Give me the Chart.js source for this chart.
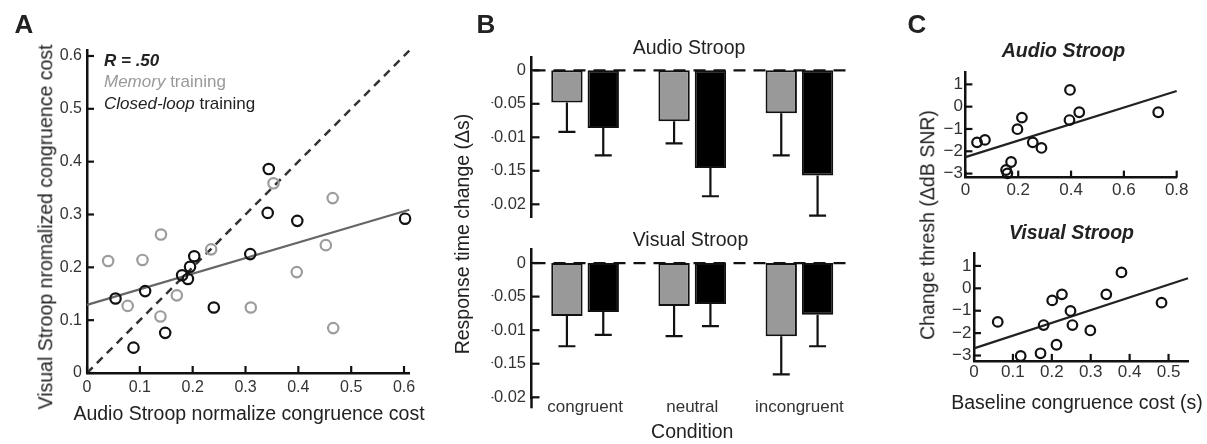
<!DOCTYPE html>
<html>
<head>
<meta charset="utf-8">
<script src="https://cdn.jsdelivr.net/npm/chart.js@4.4.0/dist/chart.umd.min.js"></script>
<style>
  body { margin: 0; background: #fff; }
  #wrap { position: relative; width: 1207px; height: 444px; overflow: hidden;
          font-family: 'Liberation Sans', Arial, sans-serif; color: #222; }
  #wrap canvas { position: absolute; left: 0; top: 0; }
  .t { position: absolute; white-space: nowrap; line-height: 1; font-size: 19.5px;
       transform: translate(-50%, -50%); }
  .l { transform: translateY(-50%); font-size: 17px; }
  .v { transform: translate(-50%, -50%) rotate(-90deg); }
  .p { font-weight: bold; font-size: 26px; }
  .bi { font-weight: bold; font-style: italic; }
</style>
</head>
<body>
<div id="wrap">
  <canvas id="cA" width="1207" height="444"></canvas>
  <canvas id="cB1" width="1207" height="444"></canvas>
  <canvas id="cB2" width="1207" height="444"></canvas>
  <canvas id="cC1" width="1207" height="444"></canvas>
  <canvas id="cC2" width="1207" height="444"></canvas>

  <div class="t p" style="left:24px;top:24px">A</div>
  <div class="t p" style="left:486px;top:24px">B</div>
  <div class="t p" style="left:917px;top:24px">C</div>

  <div class="t l bi" style="left:104px;top:60px">R = .50</div>
  <div class="t l" style="left:104px;top:80.5px;color:#999"><i>Memory</i> training</div>
  <div class="t l" style="left:104px;top:102.5px;color:#222"><i>Closed-loop</i> training</div>
  <div class="t v" style="left:46px;top:226.5px">Visual Stroop nromalized congruence cost</div>
  <div class="t" style="left:249px;top:414px">Audio Stroop normalize congruence cost</div>

  <div class="t" style="left:689px;top:47.5px">Audio Stroop</div>
  <div class="t" style="left:690.5px;top:239.5px">Visual Stroop</div>
  <div class="t v" style="left:463px;top:234px">Response time change (Δs)</div>

  <div class="t bi" style="left:1063.5px;top:51px">Audio Stroop</div>
  <div class="t bi" style="left:1071.5px;top:233px">Visual Stroop</div>
  <div class="t v" style="left:928px;top:225px">Change thresh (ΔdB SNR)</div>
  <div class="t" style="left:1077px;top:403px">Baseline congruence cost (s)</div>
</div>

<script>
// ---- panel A: normalized congruence cost ----
const aMemX = [0.040, 0.077, 0.105, 0.140, 0.139, 0.170, 0.235, 0.353, 0.310, 0.397, 0.452, 0.465, 0.466];
const aMemY = [0.212, 0.127, 0.214, 0.262, 0.107, 0.147, 0.234, 0.359, 0.124, 0.191, 0.242, 0.331, 0.085];
const aClosedX = [0.054, 0.110, 0.088, 0.148, 0.180, 0.191, 0.195, 0.203, 0.240, 0.309, 0.342, 0.344, 0.398, 0.602];
const aClosedY = [0.141, 0.155, 0.048, 0.076, 0.185, 0.178, 0.201, 0.221, 0.124, 0.225, 0.303, 0.386, 0.288, 0.292];
const aFitX = [0, 0.61];
const aFitY = [0.129, 0.309];
const aIdX = [0, 0.61];
const aIdY = [0, 0.61];
const aTicks = [0, 0.1, 0.2, 0.3, 0.4, 0.5, 0.6];
const aTickLabels = ['0', '0.1', '0.2', '0.3', '0.4', '0.5', '0.6'];

// ---- panel B: response time change ----
const conditions = ['congruent', 'neutral', 'incongruent'];
const audioMem = [-0.048, -0.076, -0.064];
const audioMemSem = [0.044, 0.033, 0.063];
const audioClosed = [-0.086, -0.146, -0.157];
const audioClosedSem = [0.041, 0.042, 0.060];
const visualMem = [-0.079, -0.064, -0.109];
const visualMemSem = [0.045, 0.045, 0.057];
const visualClosed = [-0.073, -0.061, -0.077];
const visualClosedSem = [0.034, 0.033, 0.047];
const bTicks = [-0.2, -0.15, -0.1, -0.05, 0];
const bTickLabels = ['-0.02', '\u22120.15', '-0.01', '\u22120.05', '0'];

// ---- panel C: threshold change vs baseline ----
const cAudioX = [0.044, 0.074, 0.154, 0.159, 0.173, 0.197, 0.214, 0.255, 0.288, 0.394, 0.396, 0.431, 0.730];
const cAudioY = [-1.60, -1.49, -2.84, -2.99, -2.48, -1.01, -0.49, -1.60, -1.85, -0.60, 0.75, -0.25, -0.25];
const cAudioFitX = [0, 0.8];
const cAudioFitY = [-2.26, 0.70];
const cVisualX = [0.061, 0.120, 0.171, 0.179, 0.201, 0.212, 0.226, 0.248, 0.253, 0.299, 0.340, 0.379, 0.482];
const cVisualY = [-1.50, -3.02, -2.90, -1.64, -0.54, -2.52, -0.27, -1.01, -1.64, -1.88, -0.27, 0.71, -0.64];
const cVisualFitX = [0, 0.55];
const cVisualFitY = [-2.68, 0.45];
const cYTicks = [-3, -2, -1, 0, 1];
const cYTickLabels = ['\u22123', '\u22122', '\u22121', '0', '1'];
const cAudioXTicks = [0, 0.2, 0.4, 0.6, 0.8];
const cAudioXLabels = ['0', '0.2', '0.4', '0.6', '0.8'];
const cVisualXTicks = [0, 0.1, 0.2, 0.3, 0.4, 0.5];
const cVisualXLabels = ['0', '0.1', '0.2', '0.3', '0.4', '0.5'];

Chart.defaults.font.family = "'Liberation Sans', Arial, sans-serif";
Chart.defaults.color = '#333';

const W = 1207, H = 444;
const zip = (xs, ys) => xs.map((x, i) => ({ x: x, y: ys[i] }));

// place the chart area at a fixed spot on the full-size canvas
const pad = (l, t, r, b, yw, xh) => ({ left: l - yw, top: t, right: W - r, bottom: H - b - xh });

// tick marks pointing into the plot, like the original figure
const inTicks = (axes, len) => ({
  id: 'inTicks',
  afterDatasetsDraw(chart) {
    const ctx = chart.ctx, a = chart.chartArea;
    ctx.save();
    ctx.strokeStyle = '#111';
    ctx.lineWidth = 2.2;
    axes.forEach(id => {
      const s = chart.scales[id];
      s.ticks.forEach(t => {
        const p = s.getPixelForValue(t.value);
        ctx.beginPath();
        if (s.isHorizontal()) { ctx.moveTo(p, a.bottom); ctx.lineTo(p, a.bottom - len); }
        else { ctx.moveTo(a.left, p); ctx.lineTo(a.left + len, p); }
        ctx.stroke();
      });
    });
    ctx.restore();
  }
});

// y spine runs a little below the last tick in panel B
const spineDown = (extra) => ({
  id: 'spineDown',
  afterDraw(chart) {
    const ctx = chart.ctx, a = chart.chartArea;
    ctx.save();
    ctx.strokeStyle = '#111';
    ctx.lineWidth = 2.5;
    ctx.beginPath();
    ctx.moveTo(a.left, a.bottom - 1);
    ctx.lineTo(a.left, a.bottom + extra);
    ctx.stroke();
    ctx.restore();
  }
});

const errBars = (sems) => ({
  id: 'errBars',
  afterDatasetsDraw(chart) {
    const ctx = chart.ctx, ys = chart.scales.y;
    ctx.save();
    ctx.strokeStyle = '#111';
    ctx.lineWidth = 2.2;
    chart.data.datasets.forEach((ds, i) => {
      chart.getDatasetMeta(i).data.forEach((bar, j) => {
        const y1 = ys.getPixelForValue(ds.data[j] - sems[i][j]);
        ctx.beginPath();
        ctx.moveTo(bar.x, bar.y);
        ctx.lineTo(bar.x, y1);
        ctx.moveTo(bar.x - 8.5, y1);
        ctx.lineTo(bar.x + 8.5, y1);
        ctx.stroke();
      });
    });
    ctx.restore();
  }
});

const zeroLine = {
  id: 'zeroLine',
  beforeDatasetsDraw(chart) {
    const ctx = chart.ctx, a = chart.chartArea;
    const y = chart.scales.y.getPixelForValue(0);
    ctx.save();
    ctx.strokeStyle = '#111';
    ctx.lineWidth = 2.2;
    ctx.setLineDash([12, 8]);
    ctx.beginPath();
    ctx.moveTo(a.left + 2, y);
    ctx.lineTo(a.right, y);
    ctx.stroke();
    ctx.restore();
  }
};

const linAxis = (min, max, ticks, labels, size, padding, fit) => ({
  type: 'linear', min: min, max: max,
  afterBuildTicks: s => { s.ticks = ticks.map(v => ({ value: v })); },
  afterFit: fit,
  grid: { display: false, drawTicks: false },
  border: { display: true, color: '#111', width: 2.5 },
  ticks: {
    autoSkip: false, maxRotation: 0, padding: padding, color: '#333',
    font: { size: size, lineHeight: 1 },
    callback: (v, i) => labels[i]
  }
});

const points = (xs, ys, color, r) => ({
  data: zip(xs, ys), borderColor: color, backgroundColor: 'rgba(0,0,0,0)',
  pointRadius: r, pointBorderWidth: 2.2, pointBackgroundColor: 'rgba(0,0,0,0)', clip: false
});
const line = (xs, ys, color, w, dash) => ({
  data: zip(xs, ys), showLine: true, borderColor: color, borderWidth: w,
  borderDash: dash || [], pointRadius: 0, clip: false
});

const common = (padding) => ({
  responsive: false, animation: false, devicePixelRatio: 1, events: [],
  layout: { padding: padding },
  plugins: { legend: { display: false }, tooltip: { enabled: false } }
});

// A
const optA = common(pad(87, 50.7, 409.3, 373, 40, 30));
optA.scales = {
  x: linAxis(0, 0.61, aTicks, aTickLabels, 16, 6.5, s => { s.height = 30; }),
  y: linAxis(0, 0.61, aTicks, aTickLabels, 16, 5, s => { s.width = 40; })
};
new Chart('cA', {
  type: 'scatter',
  data: { datasets: [
    points(aClosedX, aClosedY, '#111', 5.2),
    points(aMemX, aMemY, '#9c9c9c', 5.2),
    line(aFitX, aFitY, '#666', 2.2),
    line(aIdX, aIdY, '#333', 2.5, [8, 6])
  ] },
  options: optA,
  plugins: [inTicks(['x', 'y'], 7)]
});

// B
const barSet = (vals, fill) => ({
  data: vals, backgroundColor: fill, borderColor: '#111', borderWidth: 2,
  borderSkipped: false, categoryPercentage: 0.678, barPercentage: 0.863
});
const bYAxis = (min) => linAxis(min, 0.02, bTicks, bTickLabels, 16.5, 5.5, s => { s.width = 40; });

const optB1 = common(pad(531.5, 56.9, 853, 217.7, 40, 0));
optB1.scales = { x: { display: false }, y: bYAxis(-0.22) };
new Chart('cB1', {
  type: 'bar',
  data: { labels: conditions, datasets: [barSet(audioMem, '#999'), barSet(audioClosed, '#000')] },
  options: optB1,
  plugins: [zeroLine, errBars([audioMemSem, audioClosedSem]), inTicks(['y'], 8)]
});

const optB2 = common(pad(531.5, 249.6, 853, 398.3, 40, 45.7));
optB2.scales = {
  x: {
    afterFit: s => { s.height = 45.7; },
    grid: { display: false, drawTicks: false },
    border: { display: false },
    ticks: { padding: 0.6, color: '#333', font: { size: 17, lineHeight: 1 }, maxRotation: 0 },
    title: { display: true, text: 'Condition', color: '#222', font: { size: 19.5, lineHeight: 1 },
             padding: { top: 0, bottom: 1.75 } }
  },
  y: bYAxis(-0.2015)
};
new Chart('cB2', {
  type: 'bar',
  data: { labels: conditions, datasets: [barSet(visualMem, '#999'), barSet(visualClosed, '#000')] },
  options: optB2,
  plugins: [zeroLine, errBars([visualMemSem, visualClosedSem]), inTicks(['y'], 8), spineDown(10)]
});

// C
const optC1 = common(pad(965.4, 72.1, 1176.7, 177.6, 40, 30));
optC1.scales = {
  x: linAxis(0, 0.8, cAudioXTicks, cAudioXLabels, 17, 4.7, s => { s.height = 30; }),
  y: linAxis(-3.18, 1.55, cYTicks, cYTickLabels, 17, 2.5, s => { s.width = 40; })
};
new Chart('cC1', {
  type: 'scatter',
  data: { datasets: [
    points(cAudioX, cAudioY, '#111', 4.8),
    line(cAudioFitX, cAudioFitY, '#222', 2.2)
  ] },
  options: optC1,
  plugins: [inTicks(['x', 'y'], 7)]
});

const optC2 = common(pad(974, 253.6, 1188, 360.9, 40, 30));
optC2.scales = {
  x: linAxis(0, 0.55, cVisualXTicks, cVisualXLabels, 17, 3.1, s => { s.height = 30; }),
  y: linAxis(-3.24, 1.55, cYTicks, cYTickLabels, 17, 2.5, s => { s.width = 40; })
};
new Chart('cC2', {
  type: 'scatter',
  data: { datasets: [
    points(cVisualX, cVisualY, '#111', 4.8),
    line(cVisualFitX, cVisualFitY, '#222', 2.2)
  ] },
  options: optC2,
  plugins: [inTicks(['x', 'y'], 7)]
});
</script>
</body>
</html>
